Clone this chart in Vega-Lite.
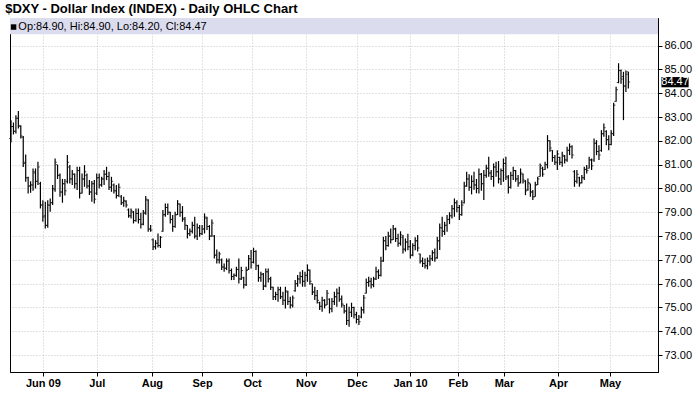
{
  "$schema": "https://vega.github.io/schema/vega-lite/v6.json",
  "width": 648,
  "height": 354,
  "autosize": "none",
  "padding": {"left": 10, "top": 18, "right": 42, "bottom": 39},
  "background": "#ffffff",
  "title": {"text": "$DXY - Dollar Index (INDEX) - Daily OHLC Chart", "anchor": "start", "font": "Liberation Sans", "fontSize": 13, "fontWeight": "bold", "color": "#000000", "offset": 2, "dx": -4},
  "config": {
    "view": {"stroke": "#000000", "strokeWidth": 1},
    "font": "Liberation Sans",
    "axisX": {"labelFont": "Liberation Sans", "labelFontSize": 11, "labelFontWeight": "bold", "labelColor": "#000000", "labelPadding": 1, "labelFlush": false, "labelOverlap": false, "tickColor": "#000000", "tickSize": 4, "domainColor": "#000000", "grid": true, "gridColor": "#c4c4c4", "gridDash": [1, 2], "gridWidth": 1, "title": null},
    "axisY": {"labelFont": "Liberation Sans", "labelFontSize": 11, "labelColor": "#000000", "labelPadding": 2, "labelOverlap": false, "labelFlush": false, "tickColor": "#000000", "tickSize": 4, "domainColor": "#000000", "grid": true, "gridColor": "#c4c4c4", "gridDash": [1, 2], "gridWidth": 1, "title": null}
  },
  "data": {"values": [
{"i":0,"o":82.10,"h":82.87,"l":81.93,"c":82.60},{"i":1,"o":82.60,"h":82.77,"l":82.27,"c":82.40},{"i":2,"o":82.40,"h":83.08,"l":82.31,"c":82.95},{"i":3,"o":82.95,"h":83.25,"l":82.52,"c":82.65},{"i":4,"o":82.60,"h":82.66,"l":82.10,"c":82.20},
{"i":5,"o":82.15,"h":82.20,"l":80.90,"c":81.05},{"i":6,"o":81.10,"h":81.43,"l":80.28,"c":80.45},{"i":7,"o":80.45,"h":80.49,"l":79.79,"c":80.10},{"i":8,"o":80.10,"h":80.30,"l":79.82,"c":80.15},{"i":9,"o":80.15,"h":80.84,"l":79.90,"c":80.70},
{"i":10,"o":80.65,"h":80.84,"l":80.00,"c":80.30},{"i":11,"o":80.30,"h":81.12,"l":80.14,"c":80.90},{"i":12,"o":80.20,"h":80.28,"l":79.16,"c":79.30},{"i":13,"o":79.30,"h":79.50,"l":78.60,"c":78.80},{"i":14,"o":78.85,"h":79.44,"l":78.32,"c":78.45},
{"i":15,"o":78.45,"h":79.50,"l":78.35,"c":79.30},{"i":16,"o":79.30,"h":79.58,"l":79.02,"c":79.40},{"i":17,"o":79.40,"h":80.14,"l":79.30,"c":80.00},{"i":18,"o":79.95,"h":81.26,"l":79.86,"c":81.10},{"i":19,"o":81.00,"h":81.00,"l":80.40,"c":80.55},
{"i":20,"o":80.55,"h":80.63,"l":79.65,"c":79.85},{"i":21,"o":79.85,"h":80.40,"l":79.40,"c":80.20},{"i":22,"o":80.20,"h":80.40,"l":79.70,"c":79.90},{"i":23,"o":80.30,"h":81.40,"l":80.21,"c":81.10},{"i":24,"o":80.90,"h":80.98,"l":80.21,"c":80.40},
{"i":25,"o":80.40,"h":80.77,"l":80.14,"c":80.60},{"i":26,"o":80.60,"h":80.63,"l":80.00,"c":80.20},{"i":27,"o":80.20,"h":80.91,"l":79.93,"c":80.75},{"i":28,"o":80.75,"h":80.91,"l":79.58,"c":79.80},{"i":29,"o":79.80,"h":80.63,"l":79.79,"c":80.40},
{"i":30,"o":80.40,"h":80.98,"l":80.07,"c":80.70},{"i":31,"o":80.55,"h":80.63,"l":80.00,"c":80.10},{"i":32,"o":80.10,"h":80.35,"l":79.72,"c":79.85},{"i":33,"o":79.85,"h":80.31,"l":79.44,"c":80.20},{"i":34,"o":80.20,"h":80.35,"l":79.37,"c":79.55},
{"i":35,"o":79.80,"h":80.63,"l":79.72,"c":80.45},{"i":36,"o":80.45,"h":80.63,"l":80.00,"c":80.15},{"i":37,"o":80.15,"h":80.49,"l":80.07,"c":80.40},{"i":38,"o":80.40,"h":80.77,"l":80.14,"c":80.60},{"i":39,"o":80.60,"h":80.91,"l":80.35,"c":80.50},
{"i":40,"o":80.50,"h":80.70,"l":79.93,"c":80.05},{"i":41,"o":80.05,"h":80.49,"l":79.86,"c":80.30},{"i":42,"o":80.15,"h":80.21,"l":79.79,"c":79.90},{"i":43,"o":79.90,"h":80.14,"l":79.58,"c":79.70},{"i":44,"o":79.70,"h":80.21,"l":79.65,"c":80.05},
{"i":45,"o":79.65,"h":79.72,"l":79.30,"c":79.40},{"i":46,"o":79.40,"h":79.65,"l":79.23,"c":79.50},{"i":47,"o":79.45,"h":79.50,"l":79.20,"c":79.30},{"i":48,"o":79.10,"h":79.16,"l":78.77,"c":78.85},{"i":49,"o":78.85,"h":79.16,"l":78.74,"c":79.05},
{"i":50,"o":79.00,"h":79.05,"l":78.53,"c":78.65},{"i":51,"o":78.65,"h":79.16,"l":78.60,"c":78.95},{"i":52,"o":78.95,"h":79.16,"l":78.53,"c":78.70},{"i":53,"o":78.70,"h":78.98,"l":78.32,"c":78.50},{"i":54,"o":78.50,"h":79.09,"l":78.45,"c":78.95},
{"i":55,"o":79.00,"h":79.68,"l":78.90,"c":79.55},{"i":56,"o":79.50,"h":79.55,"l":78.18,"c":78.30},{"i":57,"o":78.30,"h":78.46,"l":78.18,"c":78.25},{"i":58,"o":77.85,"h":77.90,"l":77.41,"c":77.55},{"i":59,"o":77.55,"h":77.83,"l":77.44,"c":77.70},
{"i":60,"o":77.70,"h":78.11,"l":77.52,"c":77.60},{"i":61,"o":77.60,"h":78.00,"l":77.50,"c":77.95},{"i":62,"o":78.20,"h":79.09,"l":78.18,"c":78.90},{"i":63,"o":78.90,"h":79.37,"l":78.81,"c":79.20},{"i":64,"o":79.20,"h":79.37,"l":78.88,"c":79.00},
{"i":65,"o":79.00,"h":79.02,"l":78.53,"c":78.70},{"i":66,"o":78.70,"h":78.88,"l":78.18,"c":78.40},{"i":67,"o":78.40,"h":79.02,"l":78.35,"c":78.90},{"i":68,"o":78.90,"h":79.51,"l":78.88,"c":79.35},{"i":69,"o":79.35,"h":79.37,"l":78.81,"c":79.00},
{"i":70,"o":79.00,"h":79.26,"l":78.60,"c":78.75},{"i":71,"o":78.70,"h":78.80,"l":78.25,"c":78.45},{"i":72,"o":78.45,"h":78.46,"l":77.90,"c":78.10},{"i":73,"o":78.10,"h":78.32,"l":78.00,"c":78.20},{"i":74,"o":78.20,"h":78.60,"l":78.11,"c":78.45},
{"i":75,"o":78.45,"h":78.81,"l":77.90,"c":78.00},{"i":76,"o":78.00,"h":78.53,"l":77.83,"c":78.35},{"i":77,"o":78.35,"h":78.46,"l":77.97,"c":78.10},{"i":78,"o":78.10,"h":78.46,"l":78.04,"c":78.30},{"i":79,"o":78.30,"h":78.95,"l":78.11,"c":78.80},
{"i":80,"o":78.75,"h":78.81,"l":78.25,"c":78.40},{"i":81,"o":78.40,"h":78.46,"l":77.83,"c":78.00},{"i":82,"o":78.00,"h":78.70,"l":77.97,"c":78.55},{"i":83,"o":78.00,"h":78.04,"l":77.06,"c":77.20},{"i":84,"o":77.20,"h":77.44,"l":76.85,"c":77.00},
{"i":85,"o":77.00,"h":77.34,"l":76.85,"c":77.25},{"i":86,"o":77.00,"h":77.06,"l":76.57,"c":76.70},{"i":87,"o":76.70,"h":76.85,"l":76.50,"c":76.65},{"i":88,"o":76.65,"h":77.06,"l":76.57,"c":76.95},{"i":89,"o":76.95,"h":77.06,"l":76.43,"c":76.55},
{"i":90,"o":76.55,"h":76.64,"l":76.15,"c":76.30},{"i":91,"o":76.30,"h":76.43,"l":76.15,"c":76.35},{"i":92,"o":76.35,"h":76.71,"l":76.29,"c":76.60},{"i":93,"o":76.60,"h":77.06,"l":76.01,"c":76.20},{"i":94,"o":76.20,"h":76.71,"l":76.15,"c":76.55},
{"i":95,"o":76.25,"h":76.29,"l":75.80,"c":75.95},{"i":96,"o":75.95,"h":76.71,"l":75.90,"c":76.55},{"i":97,"o":76.60,"h":77.20,"l":76.57,"c":77.05},{"i":98,"o":77.05,"h":77.41,"l":76.64,"c":76.90},{"i":99,"o":76.90,"h":77.51,"l":76.85,"c":77.35},
{"i":100,"o":77.35,"h":77.40,"l":76.57,"c":76.75},{"i":101,"o":76.75,"h":76.80,"l":76.08,"c":76.25},{"i":102,"o":76.25,"h":76.50,"l":76.08,"c":76.40},{"i":103,"o":76.40,"h":76.45,"l":75.73,"c":75.90},{"i":104,"o":75.90,"h":76.64,"l":75.85,"c":76.50},
{"i":105,"o":76.50,"h":76.64,"l":76.05,"c":76.20},{"i":106,"o":76.20,"h":76.29,"l":75.73,"c":75.85},{"i":107,"o":75.85,"h":75.87,"l":75.31,"c":75.45},{"i":108,"o":75.45,"h":75.66,"l":75.31,"c":75.55},{"i":109,"o":75.55,"h":75.87,"l":75.24,"c":75.75},
{"i":110,"o":75.75,"h":75.87,"l":75.35,"c":75.45},{"i":111,"o":75.45,"h":75.66,"l":75.10,"c":75.30},{"i":112,"o":75.30,"h":75.87,"l":74.96,"c":75.70},{"i":113,"o":75.65,"h":75.70,"l":75.10,"c":75.25},{"i":114,"o":75.25,"h":75.45,"l":74.96,"c":75.10},
{"i":115,"o":75.10,"h":75.50,"l":75.00,"c":75.40},{"i":116,"o":75.70,"h":76.15,"l":75.66,"c":76.00},{"i":117,"o":76.00,"h":76.36,"l":75.87,"c":76.20},{"i":118,"o":76.20,"h":76.50,"l":76.00,"c":76.30},{"i":119,"o":76.30,"h":76.57,"l":75.87,"c":76.10},
{"i":120,"o":76.10,"h":76.50,"l":75.87,"c":76.35},{"i":121,"o":76.35,"h":76.81,"l":76.08,"c":76.60},{"i":122,"o":76.55,"h":76.60,"l":75.95,"c":76.10},{"i":123,"o":76.00,"h":76.01,"l":75.52,"c":75.65},{"i":124,"o":75.65,"h":75.87,"l":75.31,"c":75.50},
{"i":125,"o":75.50,"h":75.73,"l":75.17,"c":75.30},{"i":126,"o":75.20,"h":75.24,"l":74.89,"c":75.05},{"i":127,"o":75.05,"h":75.45,"l":74.82,"c":75.30},{"i":128,"o":75.30,"h":75.35,"l":74.96,"c":75.10},{"i":129,"o":75.10,"h":75.73,"l":75.10,"c":75.60},
{"i":130,"o":75.35,"h":75.38,"l":74.75,"c":74.95},{"i":131,"o":74.95,"h":75.40,"l":74.80,"c":75.25},{"i":132,"o":75.25,"h":75.66,"l":75.10,"c":75.45},{"i":133,"o":75.45,"h":75.80,"l":75.03,"c":75.60},{"i":134,"o":75.60,"h":75.87,"l":75.24,"c":75.35},
{"i":135,"o":75.35,"h":75.50,"l":75.00,"c":75.15},{"i":136,"o":75.10,"h":75.10,"l":74.75,"c":74.85},{"i":137,"o":74.85,"h":75.17,"l":74.26,"c":74.45},{"i":138,"o":74.45,"h":75.03,"l":74.19,"c":74.80},{"i":139,"o":74.80,"h":75.20,"l":74.60,"c":75.00},
{"i":140,"o":75.00,"h":75.03,"l":74.54,"c":74.70},{"i":141,"o":74.70,"h":74.82,"l":74.33,"c":74.50},{"i":142,"o":74.50,"h":74.68,"l":74.26,"c":74.40},{"i":143,"o":74.60,"h":75.03,"l":74.55,"c":74.90},{"i":144,"o":74.90,"h":75.52,"l":74.75,"c":75.40},
{"i":145,"o":75.60,"h":76.22,"l":75.59,"c":76.05},{"i":146,"o":76.05,"h":76.29,"l":75.87,"c":76.10},{"i":147,"o":76.10,"h":76.25,"l":75.80,"c":75.95},{"i":148,"o":75.95,"h":76.29,"l":75.85,"c":76.20},{"i":149,"o":76.20,"h":76.71,"l":76.15,"c":76.50},
{"i":150,"o":76.50,"h":76.60,"l":76.20,"c":76.35},{"i":151,"o":76.35,"h":77.13,"l":76.30,"c":76.95},{"i":152,"o":76.95,"h":77.97,"l":76.92,"c":77.80},{"i":153,"o":77.80,"h":78.00,"l":77.40,"c":77.60},{"i":154,"o":77.60,"h":78.18,"l":77.55,"c":78.00},
{"i":155,"o":78.00,"h":78.32,"l":77.69,"c":77.85},{"i":156,"o":77.85,"h":78.46,"l":77.83,"c":78.30},{"i":157,"o":78.30,"h":78.35,"l":77.75,"c":77.90},{"i":158,"o":77.90,"h":78.10,"l":77.55,"c":77.70},{"i":159,"o":77.70,"h":78.20,"l":77.60,"c":78.05},
{"i":160,"o":77.95,"h":78.04,"l":77.27,"c":77.45},{"i":161,"o":77.45,"h":77.90,"l":77.35,"c":77.75},{"i":162,"o":77.75,"h":78.10,"l":77.40,"c":77.55},{"i":163,"o":77.55,"h":77.83,"l":77.06,"c":77.20},{"i":164,"o":77.20,"h":77.70,"l":77.15,"c":77.60},
{"i":165,"o":77.60,"h":77.95,"l":77.40,"c":77.80},{"i":166,"o":77.80,"h":78.05,"l":77.35,"c":77.50},{"i":167,"o":77.25,"h":77.27,"l":76.85,"c":76.95},{"i":168,"o":76.95,"h":77.10,"l":76.70,"c":76.85},{"i":169,"o":76.85,"h":77.06,"l":76.64,"c":76.75},
{"i":170,"o":76.75,"h":77.10,"l":76.60,"c":76.95},{"i":171,"o":76.95,"h":77.20,"l":76.75,"c":77.05},{"i":172,"o":77.05,"h":77.40,"l":76.95,"c":77.30},{"i":173,"o":77.30,"h":77.48,"l":76.92,"c":77.05},{"i":174,"o":77.10,"h":77.97,"l":77.05,"c":77.80},
{"i":175,"o":77.80,"h":78.53,"l":77.41,"c":78.35},{"i":176,"o":78.35,"h":78.81,"l":77.97,"c":78.20},{"i":177,"o":78.20,"h":78.60,"l":78.05,"c":78.45},{"i":178,"o":78.45,"h":78.88,"l":78.18,"c":78.70},{"i":179,"o":78.70,"h":79.00,"l":78.50,"c":78.85},
{"i":180,"o":78.85,"h":79.30,"l":78.74,"c":79.15},{"i":181,"o":79.15,"h":79.58,"l":78.81,"c":79.40},{"i":182,"o":79.40,"h":79.50,"l":79.00,"c":79.20},{"i":183,"o":79.20,"h":79.30,"l":78.67,"c":78.90},{"i":184,"o":78.90,"h":79.50,"l":78.85,"c":79.30},
{"i":185,"o":79.40,"h":80.28,"l":79.37,"c":80.10},{"i":186,"o":80.10,"h":80.70,"l":80.07,"c":80.40},{"i":187,"o":80.40,"h":80.60,"l":79.90,"c":80.05},{"i":188,"o":80.05,"h":80.55,"l":79.75,"c":80.30},{"i":189,"o":80.30,"h":80.70,"l":79.95,"c":80.15},
{"i":190,"o":80.15,"h":80.40,"l":79.80,"c":80.00},{"i":191,"o":80.00,"h":80.84,"l":79.79,"c":80.60},{"i":192,"o":80.60,"h":80.65,"l":79.90,"c":80.20},{"i":193,"o":80.20,"h":80.77,"l":79.51,"c":80.55},{"i":194,"o":80.55,"h":81.00,"l":80.45,"c":80.85},
{"i":195,"o":80.85,"h":81.33,"l":80.49,"c":80.65},{"i":196,"o":80.65,"h":80.77,"l":80.35,"c":80.50},{"i":197,"o":80.50,"h":81.05,"l":80.07,"c":80.90},{"i":198,"o":80.90,"h":81.12,"l":80.49,"c":80.70},{"i":199,"o":80.70,"h":81.15,"l":80.21,"c":80.40},
{"i":200,"o":80.40,"h":80.84,"l":80.14,"c":80.75},{"i":201,"o":80.75,"h":81.26,"l":80.28,"c":81.05},{"i":202,"o":81.05,"h":81.33,"l":80.35,"c":80.50},{"i":203,"o":80.45,"h":80.56,"l":79.79,"c":80.05},{"i":204,"o":80.05,"h":80.70,"l":80.00,"c":80.55},
{"i":205,"o":80.55,"h":80.91,"l":80.35,"c":80.75},{"i":206,"o":80.75,"h":80.77,"l":80.28,"c":80.40},{"i":207,"o":80.40,"h":80.56,"l":80.07,"c":80.20},{"i":208,"o":80.25,"h":80.84,"l":80.21,"c":80.65},{"i":209,"o":80.60,"h":80.63,"l":80.21,"c":80.35},
{"i":210,"o":80.30,"h":80.35,"l":79.72,"c":79.90},{"i":211,"o":79.95,"h":80.42,"l":79.90,"c":80.25},{"i":212,"o":80.20,"h":80.21,"l":79.65,"c":79.85},{"i":213,"o":79.85,"h":79.93,"l":79.51,"c":79.65},{"i":214,"o":79.65,"h":80.28,"l":79.65,"c":80.15},
{"i":215,"o":80.15,"h":80.49,"l":80.14,"c":80.40},{"i":216,"o":80.50,"h":81.05,"l":80.49,"c":80.95},{"i":217,"o":80.85,"h":80.91,"l":80.49,"c":80.60},{"i":218,"o":80.80,"h":81.12,"l":80.77,"c":81.00},{"i":219,"o":81.00,"h":82.24,"l":80.84,"c":82.00},
{"i":220,"o":82.00,"h":82.03,"l":81.54,"c":81.70},{"i":221,"o":81.60,"h":81.61,"l":81.12,"c":81.30},{"i":222,"o":81.30,"h":81.40,"l":80.98,"c":81.10},{"i":223,"o":81.10,"h":81.61,"l":80.77,"c":81.45},{"i":224,"o":81.30,"h":81.33,"l":80.98,"c":81.10},
{"i":225,"o":81.10,"h":81.54,"l":80.91,"c":81.40},{"i":226,"o":81.35,"h":81.40,"l":81.05,"c":81.20},{"i":227,"o":81.20,"h":81.75,"l":81.12,"c":81.60},{"i":228,"o":81.60,"h":81.89,"l":81.40,"c":81.75},{"i":229,"o":81.75,"h":81.82,"l":81.26,"c":81.40},
{"i":230,"o":80.70,"h":80.77,"l":80.07,"c":80.30},{"i":231,"o":80.30,"h":80.77,"l":80.21,"c":80.60},{"i":232,"o":80.45,"h":80.49,"l":80.07,"c":80.20},{"i":233,"o":80.25,"h":80.56,"l":80.21,"c":80.45},{"i":234,"o":80.45,"h":80.91,"l":80.35,"c":80.80},
{"i":235,"o":80.80,"h":80.98,"l":80.63,"c":80.75},{"i":236,"o":80.85,"h":81.33,"l":80.84,"c":81.20},{"i":237,"o":81.20,"h":81.26,"l":80.77,"c":80.95},{"i":238,"o":81.20,"h":82.10,"l":81.12,"c":81.90},{"i":239,"o":81.90,"h":82.03,"l":81.40,"c":81.55},
{"i":240,"o":81.55,"h":81.82,"l":81.19,"c":81.40},{"i":241,"o":81.60,"h":82.45,"l":81.54,"c":82.30},{"i":242,"o":82.30,"h":82.73,"l":82.17,"c":82.55},{"i":243,"o":82.40,"h":82.45,"l":81.82,"c":82.05},{"i":244,"o":82.05,"h":82.24,"l":81.61,"c":81.85},
{"i":245,"o":81.85,"h":82.45,"l":81.82,"c":82.30},{"i":246,"o":82.30,"h":83.60,"l":82.20,"c":83.50},{"i":247,"o":83.65,"h":84.27,"l":83.64,"c":84.15},{"i":248,"o":84.45,"h":85.26,"l":84.42,"c":84.95},{"i":249,"o":84.95,"h":85.00,"l":84.40,"c":84.60},
{"i":250,"o":84.70,"h":84.90,"l":82.87,"c":84.30},{"i":251,"o":84.30,"h":84.95,"l":84.05,"c":84.80},{"i":252,"o":84.90,"h":84.90,"l":84.20,"c":84.47}
  ]},
  "layer": [
    {
      "mark": {"type": "rule", "color": "#000000", "strokeWidth": 1.2},
      "encoding": {
        "x": {"field": "i", "type": "quantitative", "title": null,
          "scale": {"domain": [-0.41, 264.1], "nice": false, "zero": false},
          "axis": {"values": [13, 35, 57.5, 78, 98.4, 120.4, 141.2, 162.9, 182.4, 201.2, 223.3, 244.5],
            "labelExpr": "datum.value < 20 ? 'Jun 09' : datum.value < 45 ? 'Jul' : datum.value < 65 ? 'Aug' : datum.value < 90 ? 'Sep' : datum.value < 110 ? 'Oct' : datum.value < 130 ? 'Nov' : datum.value < 150 ? 'Dec' : datum.value < 170 ? 'Jan 10' : datum.value < 190 ? 'Feb' : datum.value < 210 ? 'Mar' : datum.value < 235 ? 'Apr' : 'May'"}},
        "y": {"field": "l", "type": "quantitative", "title": null,
          "scale": {"domain": [72.29, 87.16], "nice": false, "zero": false},
          "axis": {"orient": "right", "values": [73, 74, 75, 76, 77, 78, 79, 80, 81, 82, 83, 84, 85, 86], "format": ".2f", "labelOverlap": false, "tickCount": 14}},
        "y2": {"field": "h"}
      }
    },
    {
      "mark": {"type": "tick", "orient": "horizontal", "size": 1.6, "thickness": 1, "xOffset": -1, "color": "#000000"},
      "encoding": {
        "x": {"field": "i", "type": "quantitative", "title": null},
        "y": {"field": "o", "type": "quantitative", "title": null, "axis": {"orient": "right", "values": [73, 74, 75, 76, 77, 78, 79, 80, 81, 82, 83, 84, 85, 86], "format": ".2f", "labelOverlap": false, "tickCount": 14}}
      }
    },
    {
      "mark": {"type": "tick", "orient": "horizontal", "size": 1.6, "thickness": 1, "xOffset": 1, "color": "#000000"},
      "encoding": {
        "x": {"field": "i", "type": "quantitative", "title": null},
        "y": {"field": "c", "type": "quantitative", "title": null, "axis": {"orient": "right", "values": [73, 74, 75, 76, 77, 78, 79, 80, 81, 82, 83, 84, 85, 86], "format": ".2f", "labelOverlap": false, "tickCount": 14}}
      }
    },
    {
      "data": {"values": [{"label": "header"}]},
      "mark": {"type": "rect", "color": "#dcdcef"},
      "encoding": {
        "x": {"datum": -0.41, "type": "quantitative", "title": null},
        "x2": {"datum": 264.1},
        "y": {"datum": 86.48, "type": "quantitative", "title": null, "axis": {"orient": "right", "values": [73, 74, 75, 76, 77, 78, 79, 80, 81, 82, 83, 84, 85, 86], "format": ".2f", "labelOverlap": false, "tickCount": 14}},
        "y2": {"datum": 87.16}
      }
    },
    {
      "data": {"values": [{"label": "marker"}]},
      "mark": {"type": "point", "shape": "square", "filled": true, "size": 30, "color": "#000000", "opacity": 1},
      "encoding": {
        "x": {"datum": 1.05, "type": "quantitative", "title": null},
        "y": {"datum": 86.78, "type": "quantitative", "title": null, "axis": {"orient": "right", "values": [73, 74, 75, 76, 77, 78, 79, 80, 81, 82, 83, 84, 85, 86], "format": ".2f", "labelOverlap": false, "tickCount": 14}}
      }
    },
    {
      "data": {"values": [{"label": "Op:84.90, Hi:84.90, Lo:84.20, Cl:84.47"}]},
      "mark": {"type": "text", "align": "left", "baseline": "middle", "font": "Liberation Sans", "fontSize": 11, "color": "#000000"},
      "encoding": {
        "x": {"datum": 3.0, "type": "quantitative", "title": null},
        "y": {"datum": 86.78, "type": "quantitative", "title": null, "axis": {"orient": "right", "values": [73, 74, 75, 76, 77, 78, 79, 80, 81, 82, 83, 84, 85, 86], "format": ".2f", "labelOverlap": false, "tickCount": 14}},
        "text": {"field": "label"}
      }
    },
    {
      "data": {"values": [{"label": "84.47"}]},
      "mark": {"type": "rect", "color": "#000000"},
      "encoding": {
        "x": {"datum": 265.5, "type": "quantitative", "title": null},
        "x2": {"datum": 276.6},
        "y": {"datum": 84.68, "type": "quantitative", "title": null, "axis": {"orient": "right", "values": [73, 74, 75, 76, 77, 78, 79, 80, 81, 82, 83, 84, 85, 86], "format": ".2f", "labelOverlap": false, "tickCount": 14}},
        "y2": {"datum": 84.25}
      }
    },
    {
      "data": {"values": [{"label": "84.47"}]},
      "mark": {"type": "text", "align": "center", "baseline": "middle", "font": "Liberation Sans", "fontSize": 11, "color": "#ffffff"},
      "encoding": {
        "x": {"datum": 271.05, "type": "quantitative", "title": null},
        "y": {"datum": 84.47, "type": "quantitative", "title": null, "axis": {"orient": "right", "values": [73, 74, 75, 76, 77, 78, 79, 80, 81, 82, 83, 84, 85, 86], "format": ".2f", "labelOverlap": false, "tickCount": 14}},
        "text": {"field": "label"}
      }
    }
  ]
}
